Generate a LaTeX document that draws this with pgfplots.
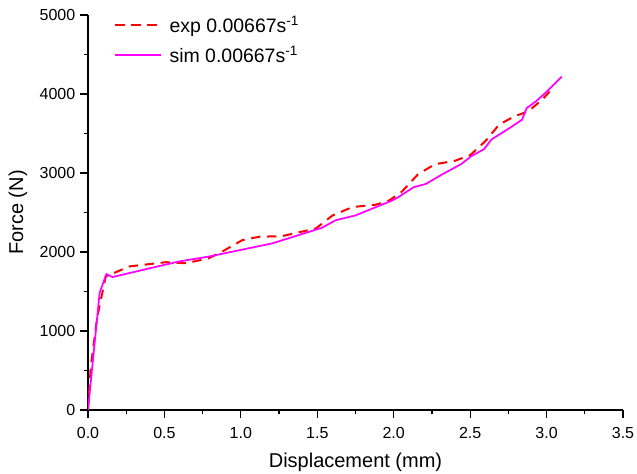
\documentclass[border=0pt]{standalone}
\usepackage{pgfplots}
\pgfplotsset{compat=1.18}
\usepackage{fontspec}
\setmainfont{Liberation Sans}
\definecolor{expred}{RGB}{255,0,0}
\definecolor{simmag}{RGB}{255,0,255}
\begin{document}
\begin{tikzpicture}
\begin{axis}[
  scale only axis,
  width=401.25pt, height=296.25pt,
  xmin=0, xmax=3.5, ymin=0, ymax=5000,
  axis x line=bottom, axis y line=left,
  axis line style={-, line width=0.9pt},
  xtick={0,0.5,...,3.5},
  ytick={0,1000,...,5000},
  minor x tick num=1, minor y tick num=1,
  tick align=outside,
  major tick length=6pt, minor tick length=3.2pt,
  tick style={black, line width=0.9pt},
  xticklabel style={yshift=-3.5pt, /pgf/number format/.cd, fixed, fixed zerofill, precision=1},
  yticklabel style={/pgf/number format/.cd, fixed, 1000 sep={}},
  /pgf/number format/assume math mode=true,
  ticklabel style={font=\fontsize{12}{14}\selectfont},
  label style={font=\fontsize{15}{18}\selectfont},
  xlabel={Displacement (mm)},
  ylabel={Force (N)},
  xlabel style={yshift=-4pt},
  ylabel style={yshift=2.5pt},
  legend style={draw=none, fill=none, at={(axis description cs:0.046,1.0)}, anchor=north west,
    yshift=2.5pt, font=\fontsize{14.6}{17}\selectfont, row sep=5pt, inner sep=1pt},
  legend cell align=left,
  legend image code/.code={\draw[#1, line width=1.5pt] (0pt,0pt) -- (34pt,0pt); \path (38pt,0pt);},
]
\coordinate (O) at (rel axis cs:0,0);
\addplot[expred, dash pattern=on 7pt off 5pt, line width=1.5pt] coordinates {
(0,0) (0.018,543) (0.06,1170) (0.116,1690) (0.27,1817) (0.51,1871) (0.64,1858)
(0.79,1921) (0.878,2005) (1.01,2151) (1.12,2193) (1.27,2201) (1.49,2297)
(1.60,2463) (1.73,2569) (1.88,2598) (1.96,2640) (2.05,2757) (2.16,2986) (2.27,3111)
(2.40,3154) (2.50,3225) (2.60,3404) (2.69,3613) (2.79,3718) (2.88,3780)
(2.97,3926) (3.02,4030)
};
\addlegendentry{exp 0.00667s\textsuperscript{-1}}
\addplot[simmag, line width=1.3pt] coordinates {
(0,0) (0.076,1482) (0.12,1720) (0.16,1683) (0.595,1880) (0.79,1942) (1.205,2109)
(1.53,2306) (1.62,2402) (1.75,2463) (1.99,2652) (2.03,2694) (2.13,2820) (2.21,2861)
(2.32,2986) (2.44,3111) (2.51,3216) (2.59,3300) (2.64,3425) (2.75,3559)
(2.84,3675) (2.87,3822) (2.93,3906) (2.99,4010) (3.10,4220)
};
\addlegendentry{sim 0.00667s\textsuperscript{-1}}
\end{axis}
\pgfresetboundingbox
\path (O) ++(-66pt,-48pt) rectangle ++(477.75pt,355.5pt);
\end{tikzpicture}
\end{document}
